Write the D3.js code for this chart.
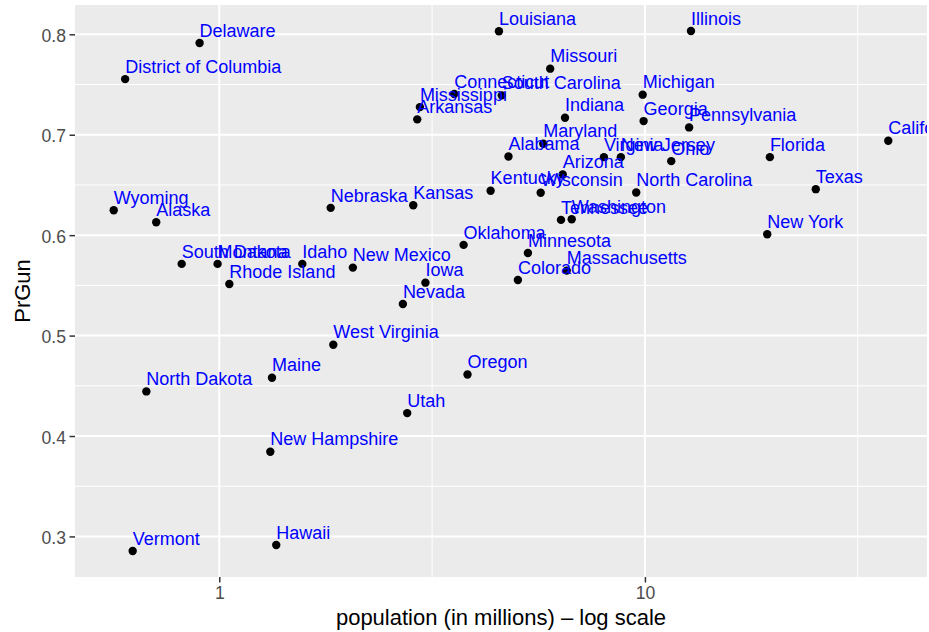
<!DOCTYPE html>
<html>
<head>
<meta charset="utf-8">
<script src="https://cdn.jsdelivr.net/npm/d3@7"></script>
<style>
  html, body { margin: 0; padding: 0; background: #ffffff; }
  svg { display: block; }
  text { font-family: "Liberation Sans", Arial, Helvetica, sans-serif; }
</style>
</head>
<body>
<div id="chart"></div>
<script>
const states = ["Delaware","District of Columbia","Wyoming","Alaska","South Dakota","Montana","Rhode Island","Idaho",
  "Louisiana","Missouri","Connecticut","South Carolina","Mississippi","Arkansas","Indiana","Maryland","Alabama",
  "Virginia","New Jersey","Arizona","Kentucky","Wisconsin","Nebraska","Kansas","Tennessee","Washington","Oklahoma",
  "Minnesota","New Mexico","Massachusetts","Colorado","Iowa","Nevada",
  "Illinois","Michigan","Georgia","Pennsylvania","Ohio","Florida","North Carolina","Texas","New York","California",
  "North Dakota","Maine","New Hampshire","Vermont","Hawaii","West Virginia","Oregon","Utah"];
const population = [0.899,0.601,0.565,0.711,0.816,0.991,1.056,1.567,
  4.54,5.99,3.565,4.61,2.96,2.918,6.49,5.77,4.78,
  8.01,8.78,6.41,4.34,5.69,1.827,2.856,6.35,6.73,3.75,
  5.31,2.06,6.55,5.03,3.05,2.70,
  12.83,9.88,9.93,12.7,11.53,19.66,9.54,25.2,19.38,37.3,
  0.674,1.33,1.318,0.626,1.361,1.853,3.83,2.764];
const prGun = [0.7913,0.7554,0.6248,0.6129,0.5714,0.5714,0.5514,0.5714,
  0.8030,0.7658,0.7405,0.7392,0.7275,0.7153,0.7169,0.6910,0.6784,
  0.6777,0.6777,0.6604,0.6442,0.6422,0.6272,0.6298,0.6152,0.6158,0.5903,
  0.5823,0.5677,0.5647,0.5554,0.5527,0.5315,
  0.8033,0.7399,0.7136,0.7073,0.6737,0.6777,0.6425,0.6458,0.6009,0.6940,
  0.4444,0.4580,0.3843,0.2855,0.2915,0.4909,0.4613,0.4228];
const xTicks = [1, 10, 100];
const xMinor = [Math.sqrt(10), Math.pow(10, 1.5)];
const yTicks = [0.3, 0.4, 0.5, 0.6, 0.7, 0.8];
const yMinor = [0.25, 0.35, 0.45, 0.55, 0.65, 0.75, 0.85];
const xTitle = "population (in millions) \u2013 log scale";
const yTitle = "PrGun";

const W = 929, H = 632;
const panel = { left: 75, right: 927, top: 5, bottom: 577 };

const data = states.map((s, i) => ({ state: s, pop: population[i], gun: prGun[i] }));

// ggplot-style 5% expansion
const lx = d3.extent(population).map(Math.log10);
const ex = (lx[1] - lx[0]) * 0.05;
const x = d3.scaleLog().domain([Math.pow(10, lx[0] - ex), Math.pow(10, lx[1] + ex)]).range([panel.left, panel.right]);
const ly = d3.extent(prGun);
const ey = (ly[1] - ly[0]) * 0.05;
const y = d3.scaleLinear().domain([ly[0] - ey, ly[1] + ey]).range([panel.bottom, panel.top]);

const svg = d3.select("#chart").append("svg").attr("width", W).attr("height", H);

svg.append("defs").append("clipPath").attr("id", "panelClip")
  .append("rect").attr("x", panel.left).attr("y", panel.top)
  .attr("width", panel.right - panel.left).attr("height", panel.bottom - panel.top);

svg.append("rect").attr("x", panel.left).attr("y", panel.top)
  .attr("width", panel.right - panel.left).attr("height", panel.bottom - panel.top)
  .attr("fill", "#EBEBEB");

const inX = v => x(v) >= panel.left && x(v) <= panel.right;
const inY = v => y(v) >= panel.top && y(v) <= panel.bottom;

const grid = svg.append("g").attr("clip-path", "url(#panelClip)");
grid.selectAll(".ymin").data(yMinor.filter(inY)).enter().append("line")
  .attr("x1", panel.left).attr("x2", panel.right).attr("y1", d => y(d)).attr("y2", d => y(d))
  .attr("stroke", "#fff").attr("stroke-width", 1);
grid.selectAll(".xmin").data(xMinor.filter(inX)).enter().append("line")
  .attr("y1", panel.top).attr("y2", panel.bottom).attr("x1", d => x(d)).attr("x2", d => x(d))
  .attr("stroke", "#fff").attr("stroke-width", 1);
grid.selectAll(".ymaj").data(yTicks.filter(inY)).enter().append("line")
  .attr("x1", panel.left).attr("x2", panel.right).attr("y1", d => y(d)).attr("y2", d => y(d))
  .attr("stroke", "#fff").attr("stroke-width", 2);
grid.selectAll(".xmaj").data(xTicks.filter(inX)).enter().append("line")
  .attr("y1", panel.top).attr("y2", panel.bottom).attr("x1", d => x(d)).attr("x2", d => x(d))
  .attr("stroke", "#fff").attr("stroke-width", 2);

// axes
const yAxis = d3.axisLeft(y).tickValues(yTicks.filter(inY)).tickSize(5.5).tickPadding(3.5).tickFormat(d3.format(".1f"));
const gy = svg.append("g").attr("transform", `translate(${panel.left},0)`).call(yAxis);
gy.select(".domain").remove();
gy.selectAll(".tick line").attr("stroke", "#333333").attr("stroke-width", 1.5);
gy.selectAll(".tick text").attr("fill", "#4D4D4D").attr("font-size", "17.6px")
  .attr("dy", null).attr("dominant-baseline", "central").attr("y", 1);

const xAxis = d3.axisBottom(x).tickValues(xTicks.filter(inX)).tickSize(5.5).tickPadding(3).tickFormat(d3.format("d"));
const gx = svg.append("g").attr("transform", `translate(0,${panel.bottom})`).call(xAxis);
gx.select(".domain").remove();
gx.selectAll(".tick line").attr("stroke", "#333333").attr("stroke-width", 1.5);
gx.selectAll(".tick text").attr("fill", "#4D4D4D").attr("font-size", "17.6px")
  .attr("dy", null).attr("y", 22);

// titles
svg.append("text").attr("x", (panel.left + panel.right) / 2).attr("y", 625)
  .attr("text-anchor", "middle").attr("font-size", "22px").attr("fill", "#000").text(xTitle);
svg.append("text").attr("transform", `translate(30,${(panel.top + panel.bottom) / 2}) rotate(-90)`)
  .attr("text-anchor", "middle").attr("font-size", "22px").attr("fill", "#000").text(yTitle);

// points and labels
const marks = svg.append("g").attr("clip-path", "url(#panelClip)");
marks.selectAll("circle").data(data).enter().append("circle")
  .attr("cx", d => x(d.pop)).attr("cy", d => y(d.gun)).attr("r", 4.2).attr("fill", "#000");
marks.selectAll("text.lab").data(data).enter().append("text").attr("class", "lab")
  .attr("x", d => x(d.pop)).attr("y", d => y(d.gun) - 6.3)
  .attr("font-size", "18px").attr("fill", "#0000FF").text(d => d.state);
</script>
</body>
</html>
